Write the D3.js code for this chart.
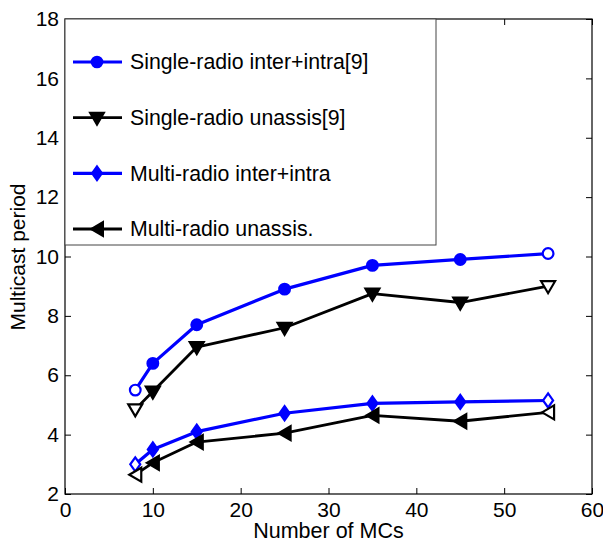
<!DOCTYPE html>
<html>
<head>
<meta charset="utf-8">
<script src="https://cdn.jsdelivr.net/npm/d3@7"></script>
<style>
  body { margin: 0; background: #fff; }
  svg text { font-family: Arial, "Liberation Sans", sans-serif; fill: #000; }
</style>
</head>
<body>
<svg id="chart" width="603" height="543"></svg>
<script>
// data
var mcs = [8, 10, 15, 25, 35, 45, 55];
var singleInter = [5.5, 6.4, 7.7, 8.9, 9.7, 9.9, 10.1];
var singleUnassis = [4.85, 5.45, 6.95, 7.6, 8.75, 8.45, 9.0];
var multiInter = [3.0, 3.5, 4.1, 4.72, 5.05, 5.1, 5.15];
var multiUnassis = [2.65, 3.05, 3.75, 4.05, 4.65, 4.45, 4.75];
var seriesNames = ['Single-radio inter+intra[9]', 'Single-radio unassis[9]',
  'Multi-radio inter+intra', 'Multi-radio unassis.'];
var xTicks = [0, 10, 20, 30, 40, 50, 60];
var yTicks = [2, 4, 6, 8, 10, 12, 14, 16, 18];

(function () {
  'use strict';

  var series = [
    { name: seriesNames[0], values: singleInter, color: '#0000ff', marker: 'circle', width: 3.2 },
    { name: seriesNames[1], values: singleUnassis, color: '#000', marker: 'down', width: 2.8 },
    { name: seriesNames[2], values: multiInter, color: '#0000ff', marker: 'diamond', width: 3.2 },
    { name: seriesNames[3], values: multiUnassis, color: '#000', marker: 'left', width: 2.8 }
  ];

  var svg = d3.select('#chart');
  var pl = 65, pr = 592, pt = 19, pb = 494;

  var x = d3.scaleLinear().domain([0, 60]).range([pl, pr]);
  var y = d3.scaleLinear().domain([2, 18]).range([pb, pt]);

  // inward ticks on all four sides
  function tickAxis(axis, transform) {
    var g = svg.append('g').attr('transform', transform).call(axis);
    g.select('.domain').remove();
    g.selectAll('line').attr('stroke', '#000');
    g.attr('font-family', null).attr('font-size', null);
    return g;
  }
  tickAxis(d3.axisBottom(x).tickValues(xTicks).tickSize(-6).tickPadding(8).tickFormat(d3.format('d')),
    'translate(0,' + pb + ')').selectAll('text').attr('font-size', 21);
  tickAxis(d3.axisTop(x).tickValues(xTicks).tickSize(-6).tickFormat(''), 'translate(0,' + pt + ')');
  tickAxis(d3.axisLeft(y).tickValues(yTicks).tickSize(-6).tickPadding(6).tickFormat(d3.format('d')),
    'translate(' + pl + ',0)').selectAll('text').attr('font-size', 21);
  tickAxis(d3.axisRight(y).tickValues(yTicks).tickSize(-6).tickFormat(''), 'translate(' + pr + ',0)');

  svg.append('rect')
    .attr('x', pl).attr('y', pt).attr('width', pr - pl).attr('height', pb - pt)
    .attr('fill', 'none').attr('stroke', '#000').attr('stroke-width', 1.2);

  function markerPath(type) {
    if (type === 'circle') return d3.symbol(d3.symbolCircle, 90)();
    if (type === 'diamond') return 'M0,-7L5,0L0,7L-5,0Z';
    if (type === 'down') return 'M-7,-5L7,-5L0,7Z';
    return 'M-6,0L6,-7L6,7Z';
  }

  var line = d3.line()
    .x(function (d, i) { return x(mcs[i]); })
    .y(function (d) { return y(d); });

  series.forEach(function (s) {
    svg.append('path')
      .attr('d', line(s.values))
      .attr('fill', 'none')
      .attr('stroke', s.color)
      .attr('stroke-width', s.width)
      .attr('stroke-linejoin', 'round');

    svg.selectAll(null)
      .data(s.values)
      .enter().append('path')
      .attr('d', markerPath(s.marker))
      .attr('transform', function (d, i) { return 'translate(' + x(mcs[i]) + ',' + y(d) + ')'; })
      .attr('fill', function (d, i) { return (i === 0 || i === s.values.length - 1) ? '#fff' : s.color; })
      .attr('stroke', s.color)
      .attr('stroke-width', 2.2);
  });

  // legend
  var lg = svg.append('g');
  lg.append('rect')
    .attr('x', pl).attr('y', pt).attr('width', 436 - pl).attr('height', 245 - pt)
    .attr('fill', '#fff').attr('stroke', '#444').attr('stroke-width', 1);

  var rowY = d3.scalePoint().domain(seriesNames).range([62, 229]);
  series.forEach(function (s) {
    var ry = rowY(s.name);
    lg.append('line')
      .attr('x1', 73).attr('x2', 122).attr('y1', ry).attr('y2', ry)
      .attr('stroke', s.color).attr('stroke-width', s.width);
    lg.append('path')
      .attr('d', markerPath(s.marker))
      .attr('transform', 'translate(97,' + ry + ')')
      .attr('fill', s.color).attr('stroke', s.color).attr('stroke-width', 2);
    lg.append('text')
      .attr('x', 130).attr('y', ry).attr('dy', '0.35em')
      .attr('font-size', 21.3)
      .text(s.name);
  });

  // axis titles
  svg.append('text')
    .attr('x', (pl + pr) / 2).attr('y', 538)
    .attr('text-anchor', 'middle').attr('font-size', 21.5)
    .text('Number of MCs');
  svg.append('text')
    .attr('transform', 'translate(25,257) rotate(-90)')
    .attr('text-anchor', 'middle').attr('font-size', 21)
    .text('Multicast period');
})();
</script>
</body>
</html>
